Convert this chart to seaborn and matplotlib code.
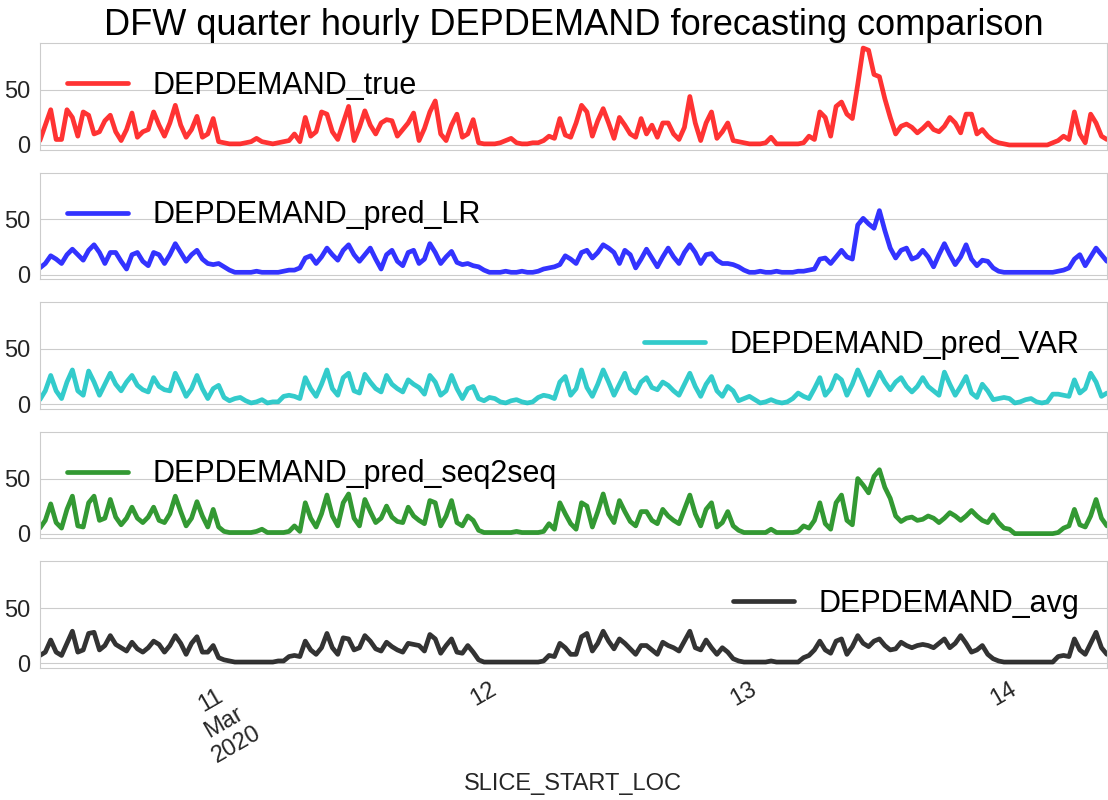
import pandas as pd
import numpy as np
import seaborn as sns
import matplotlib
matplotlib.use("Agg")
import matplotlib.pyplot as plt
import matplotlib.dates as mdates
from matplotlib.ticker import FuncFormatter

# half-hourly readings, 2020-03-10 07:00 .. 2020-03-14 09:30
start_time = "2020-03-10 07:00"

dep_true = [4, 18, 32, 5, 5, 32, 25, 8, 30, 27,
            10, 12, 22, 27, 12, 4, 14, 29, 7, 12,
            14, 30, 18, 8, 20, 36, 18, 7, 14, 26,
            7, 10, 24, 3, 2, 1, 1, 1, 2, 3,
            6, 3, 2, 1, 2, 3, 4, 10, 3, 25,
            8, 12, 30, 28, 12, 5, 20, 35, 4, 16,
            31, 18, 10, 20, 23, 22, 8, 14, 20, 29,
            4, 15, 30, 40, 10, 4, 18, 28, 7, 10,
            23, 2, 1, 1, 1, 2, 4, 6, 2, 1,
            1, 2, 2, 4, 8, 6, 24, 9, 7, 20,
            36, 30, 8, 22, 33, 20, 6, 25, 18, 10,
            7, 24, 10, 18, 7, 20, 20, 10, 5, 16,
            44, 20, 4, 20, 30, 6, 12, 20, 4, 3,
            2, 1, 1, 1, 2, 7, 1, 1, 1, 1,
            1, 2, 8, 5, 30, 25, 8, 35, 39, 28,
            24, 55, 88, 86, 64, 62, 42, 25, 10, 17,
            19, 16, 11, 15, 20, 14, 12, 17, 25, 20,
            11, 28, 28, 10, 14, 8, 4, 2, 1, 0,
            0, 0, 0, 0, 0, 0, 0, 2, 4, 8,
            5, 30, 10, 2, 28, 20, 8, 5]

pred_lr = [6, 10, 17, 14, 10, 18, 23, 18, 13, 22,
           27, 20, 10, 20, 20, 12, 5, 18, 20, 12,
           8, 20, 18, 10, 18, 28, 20, 12, 18, 22,
           14, 10, 9, 10, 7, 4, 2, 2, 2, 2,
           3, 2, 2, 2, 2, 3, 4, 4, 6, 15,
           17, 10, 16, 24, 18, 13, 22, 27, 18, 12,
           18, 24, 14, 5, 18, 22, 12, 8, 20, 22,
           10, 14, 28, 20, 10, 16, 21, 11, 9, 10,
           8, 7, 4, 2, 2, 2, 3, 2, 2, 3,
           2, 2, 3, 5, 6, 7, 9, 17, 14, 10,
           20, 22, 15, 20, 27, 24, 20, 10, 22, 18,
           6, 14, 23, 15, 7, 16, 24, 16, 10, 20,
           27, 20, 10, 18, 19, 13, 10, 10, 9, 7,
           4, 2, 2, 3, 2, 2, 3, 2, 2, 2,
           3, 3, 4, 5, 14, 15, 10, 16, 22, 16,
           14, 45, 51, 46, 42, 58, 40, 24, 15, 22,
           24, 14, 16, 22, 16, 7, 18, 28, 18, 9,
           16, 27, 14, 8, 13, 12, 6, 3, 2, 2,
           2, 2, 2, 2, 2, 2, 2, 2, 3, 4,
           6, 14, 18, 8, 16, 24, 18, 12]

pred_var = [4, 12, 26, 12, 5, 20, 31, 12, 8, 30,
            20, 8, 18, 28, 18, 12, 20, 26, 17, 13,
            11, 24, 16, 13, 12, 28, 18, 7, 14, 26,
            14, 5, 14, 17, 6, 3, 5, 6, 3, 1,
            2, 4, 1, 2, 2, 7, 8, 7, 5, 24,
            14, 7, 18, 31, 14, 8, 24, 28, 12, 10,
            27, 20, 14, 11, 26, 18, 14, 11, 22, 18,
            15, 9, 26, 20, 8, 12, 26, 14, 5, 14,
            16, 5, 3, 6, 5, 2, 1, 3, 4, 2,
            1, 2, 6, 8, 7, 5, 20, 25, 8, 14,
            31, 15, 7, 18, 31, 20, 8, 18, 28, 14,
            10, 20, 24, 15, 13, 20, 17, 12, 8, 18,
            28, 16, 7, 18, 25, 12, 7, 16, 12, 3,
            5, 7, 4, 1, 2, 4, 2, 1, 2, 5,
            10, 7, 5, 14, 24, 8, 14, 26, 22, 8,
            18, 31, 20, 8, 18, 29, 20, 13, 20, 24,
            16, 11, 16, 24, 16, 12, 8, 29, 18, 8,
            16, 25, 10, 6, 18, 12, 4, 5, 6, 5,
            1, 2, 4, 5, 2, 1, 2, 9, 9, 8,
            7, 22, 10, 14, 28, 20, 7, 10]

pred_seq2seq = [5, 12, 27, 10, 5, 22, 34, 7, 6, 28,
                34, 12, 14, 31, 15, 8, 14, 24, 14, 10,
                15, 24, 12, 10, 18, 34, 20, 7, 14, 29,
                16, 6, 22, 6, 2, 1, 1, 1, 1, 1,
                2, 4, 1, 1, 1, 1, 2, 7, 2, 28,
                14, 6, 18, 35, 16, 7, 28, 36, 14, 7,
                31, 20, 10, 14, 25, 15, 11, 10, 24, 16,
                12, 9, 30, 28, 7, 16, 30, 10, 7, 16,
                12, 3, 1, 1, 1, 1, 1, 1, 2, 1,
                1, 1, 1, 2, 9, 4, 28, 18, 9, 4,
                28, 25, 6, 20, 36, 18, 10, 30, 20, 11,
                7, 20, 20, 12, 9, 22, 16, 12, 9, 22,
                35, 18, 7, 22, 28, 6, 10, 20, 7, 3,
                1, 1, 1, 1, 1, 4, 1, 1, 1, 1,
                2, 7, 5, 12, 28, 9, 4, 28, 35, 12,
                8, 50, 44, 37, 52, 58, 42, 32, 16, 11,
                14, 15, 12, 13, 16, 14, 10, 14, 19, 16,
                12, 16, 21, 16, 12, 10, 17, 10, 5, 4,
                0, 0, 0, 0, 0, 0, 0, 0, 1, 5,
                7, 22, 8, 6, 16, 31, 14, 7]

dep_avg = [7, 10, 21, 10, 7, 18, 29, 10, 12, 27,
           28, 12, 16, 25, 17, 14, 11, 19, 13, 10,
           14, 20, 17, 10, 16, 25, 18, 8, 18, 24,
           10, 10, 16, 5, 3, 2, 1, 1, 1, 1,
           1, 1, 1, 1, 2, 2, 6, 7, 6, 20,
           12, 8, 14, 27, 14, 8, 23, 22, 12, 14,
           25, 20, 13, 11, 19, 15, 12, 10, 18, 17,
           16, 11, 26, 22, 9, 16, 22, 10, 9, 16,
           10, 3, 1, 1, 1, 1, 1, 1, 1, 1,
           1, 1, 1, 2, 7, 6, 18, 14, 8, 8,
           24, 27, 11, 18, 29, 20, 13, 22, 18, 13,
           8, 16, 16, 12, 8, 19, 16, 14, 11, 20,
           29, 14, 12, 21, 14, 8, 14, 10, 4, 2,
           1, 1, 1, 1, 1, 2, 1, 1, 1, 1,
           1, 5, 7, 12, 20, 12, 9, 20, 22, 8,
           15, 25, 18, 15, 20, 22, 16, 12, 13, 19,
           16, 14, 16, 17, 16, 14, 18, 22, 14, 18,
           25, 18, 10, 12, 16, 8, 4, 2, 1, 1,
           1, 1, 1, 1, 1, 1, 1, 1, 6, 7,
           6, 22, 12, 8, 18, 28, 14, 8]

series_names = ["DEPDEMAND_true", "DEPDEMAND_pred_LR", "DEPDEMAND_pred_VAR",
                "DEPDEMAND_pred_seq2seq", "DEPDEMAND_avg"]
series_colors = ["r", "b", "c", "g", "k"]
legend_locs = ["upper left", "upper left", "upper right", "upper left", "upper right"]

times = pd.date_range(start_time, periods=len(dep_true), freq="30min")
df = pd.DataFrame({"SLICE_START_LOC": times,
                   "DEPDEMAND_true": dep_true,
                   "DEPDEMAND_pred_LR": pred_lr,
                   "DEPDEMAND_pred_VAR": pred_var,
                   "DEPDEMAND_pred_seq2seq": pred_seq2seq,
                   "DEPDEMAND_avg": dep_avg})

sns.set_style("whitegrid")
plt.rcParams["font.family"] = ["Liberation Sans", "DejaVu Sans"]

fig, axes = plt.subplots(5, 1, figsize=(11.08, 8), dpi=100, sharex=True, sharey=True)
fig.subplots_adjust(left=0.036, right=0.999, top=0.946, bottom=0.165, hspace=0.215)

for ax, name, col, loc in zip(axes, series_names, series_colors, legend_locs):
    sns.lineplot(data=df, x="SLICE_START_LOC", y=name, ax=ax, color=col,
                 alpha=0.8, linewidth=3.4, label=name)
    ax.legend(loc=loc, fontsize=22, frameon=False, labelcolor="black")
    ax.set_ylabel("")
    ax.set_xlabel("")
    ax.grid(axis="x", visible=False)
    ax.tick_params(axis="y", labelsize=17)
    ax.set_yticks([0, 50])

ymax = max(dep_true)
axes[0].set_ylim(-0.05 * ymax, 1.05 * ymax)
axes[0].set_xlim(times[0], times[-1])


def day_label(x, pos):
    d = mdates.num2date(x)
    if pos == 0:
        return d.strftime("%d\n%b\n%Y")
    return d.strftime("%d")


axes[-1].xaxis.set_major_locator(mdates.DayLocator())
axes[-1].xaxis.set_major_formatter(FuncFormatter(day_label))
for lab in axes[-1].get_xticklabels():
    lab.set_rotation(30)
    lab.set_ha("center")
axes[-1].tick_params(axis="x", labelsize=17)
axes[-1].set_xlabel("SLICE_START_LOC", fontsize=17)

axes[0].set_title("DFW quarter hourly DEPDEMAND forecasting comparison", fontsize=26, color="black")

fig.savefig("out.png", dpi=100)
